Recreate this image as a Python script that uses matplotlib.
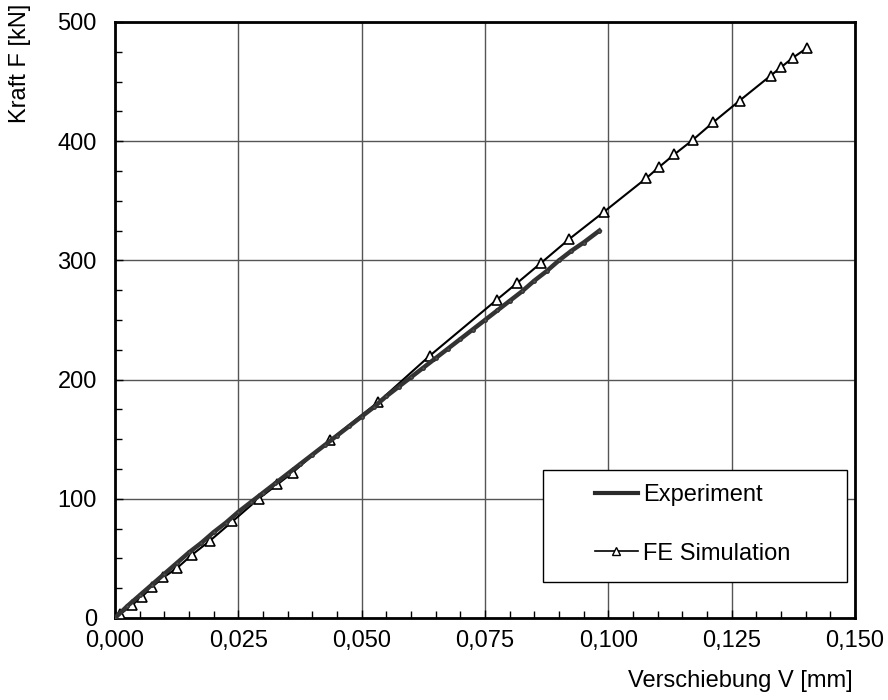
import matplotlib
matplotlib.use("Agg")
import matplotlib.pyplot as plt
from matplotlib.ticker import MultipleLocator, FuncFormatter
from matplotlib.patches import Rectangle
from matplotlib.lines import Line2D

plt.rcParams['font.family'] = ['Liberation Sans', 'DejaVu Sans']

# Experiment data
exp_v = [0, .0025, .005, .0075, .01, .0125, .015, .0175, .02, .0225, .025, .0275,
         .03, .0325, .035, .0375, .04, .0425, .045, .0475, .05, .0525, .055, .0575,
         .06, .0625, .065, .0675, .07, .0725, .075, .0775, .08, .0825, .085, .0875,
         .09, .0925, .095, .0982]
exp_f = [0, 10, 19, 28, 37, 46, 55, 63, 72, 80, 89, 97,
         105, 113, 121, 129, 137, 145, 153, 161, 169, 177, 186, 194,
         202, 210, 218, 226, 234, 242, 250, 258, 266, 274, 283, 291,
         300, 308, 315, 325]

# FE simulation data
fe_v = [0.0, 0.001, 0.0035, 0.0055, 0.0075, 0.0098, 0.0126, 0.0156, 0.0193, 0.0238,
        0.0291, 0.0329, 0.0360, 0.0435, 0.0533, 0.0638, 0.0774, 0.0815, 0.0864,
        0.0921, 0.0992, 0.1077, 0.1102, 0.1134, 0.1171, 0.1213, 0.1266, 0.1329,
        0.1350, 0.1374, 0.1402]
fe_f = [0, 3, 11, 18, 26, 34, 42, 53, 65, 81,
        100, 112, 122, 149, 181, 220, 267, 281, 298,
        318, 341, 369, 378, 389, 401, 416, 434, 455,
        462, 470, 478]

x_ticks = [0.0, 0.025, 0.05, 0.075, 0.1, 0.125, 0.15]
y_ticks = [0, 100, 200, 300, 400, 500]

FS = 17

fig = plt.figure(figsize=(8.88, 7.0), dpi=100)
ax = fig.add_axes([115/888, 1-618/700, (855-115)/888, (618-22)/700])

ax.plot(fe_v, fe_f, color='black', lw=1.5, marker='^', markersize=7,
        markerfacecolor='white', markeredgecolor='black', markeredgewidth=1.2, zorder=3)
ax.plot(exp_v, exp_f, color='#333333', lw=3.2, marker='o', markersize=2.5,
        markerfacecolor='#555555', markeredgecolor='#333333', zorder=4)

ax.set_xlim(0, 0.15)
ax.set_ylim(0, 500)
ax.set_xticks(x_ticks)
ax.set_yticks(y_ticks)
ax.xaxis.set_minor_locator(MultipleLocator(0.005))
ax.yaxis.set_minor_locator(MultipleLocator(25))
ax.xaxis.set_major_formatter(FuncFormatter(lambda v, p: f"{v:.3f}".replace('.', ',')))
ax.yaxis.set_major_formatter(FuncFormatter(lambda v, p: f"{int(round(v))}"))
ax.tick_params(axis='both', which='major', direction='in', length=6, width=1,
               labelsize=FS, colors='black')
ax.tick_params(axis='x', which='major', pad=9)
ax.tick_params(axis='y', which='major', pad=13)
ax.tick_params(axis='both', which='minor', direction='in', length=5, width=1)
ax.grid(True, which='major', color='#555555', lw=1.0)
ax.set_axisbelow(True)
for s in ax.spines.values():
    s.set_linewidth(2)
    s.set_color('black')

fig.text(853/888, 1-681/700, "Verschiebung V [mm]", ha='right', va='center', fontsize=FS)
fig.text(20/888, 1-4/700, "Kraft F [kN]", ha='center', va='top', rotation=90, fontsize=FS)

# Legend box
axw, axh = 740.0, 596.0
rx0 = (543-115)/axw; ry0 = (618-582)/axh
rw = (847-543)/axw; rh = (582-470)/axh
ax.add_patch(Rectangle((rx0, ry0), rw, rh, transform=ax.transAxes, facecolor='white',
                       edgecolor='black', lw=1.0, zorder=10))
handles = [Line2D([], [], color='#2a2a2a', lw=3),
           Line2D([], [], color='black', lw=1.2, marker='^', markersize=6,
                  markerfacecolor='white', markeredgecolor='black')]
leg = ax.legend(handles, ['Experiment', 'FE Simulation'], loc='upper left',
                bbox_to_anchor=((595-115)/axw, (618-484)/axh), frameon=False,
                fontsize=FS, handlelength=1.8, handletextpad=0.25, labelspacing=1.55,
                borderaxespad=0, borderpad=0, numpoints=1)
leg.set_zorder(11)

fig.savefig("out.png", dpi=100)
